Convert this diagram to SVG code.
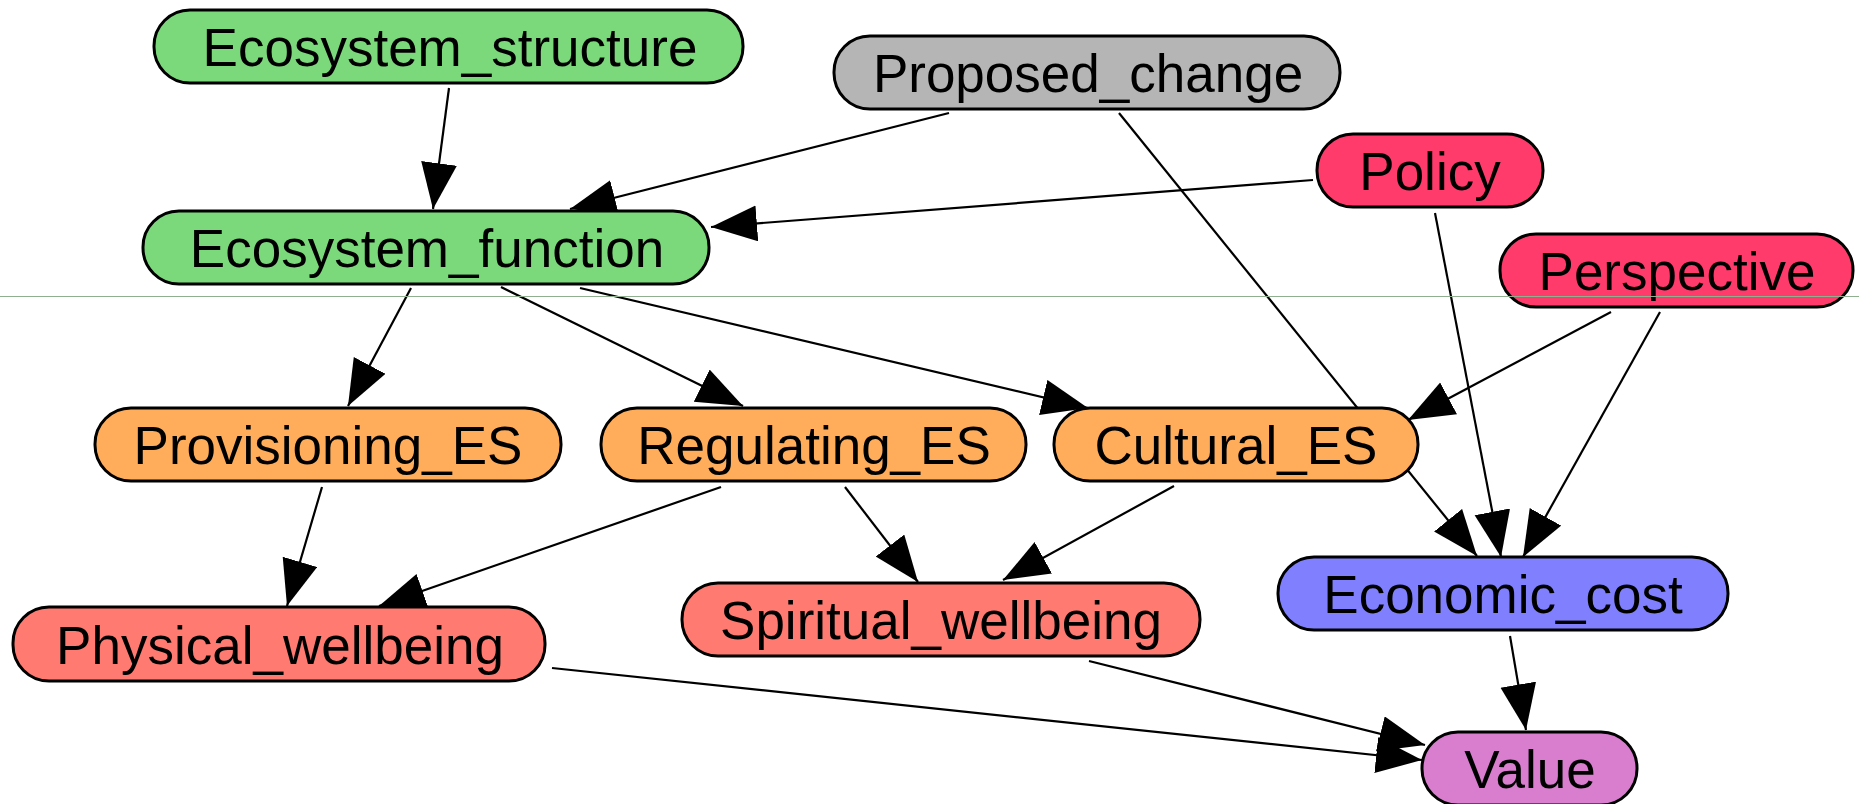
<svg xmlns="http://www.w3.org/2000/svg" width="1859" height="804" viewBox="0 0 1859 804">
<defs>
<style>
.n rect{stroke:#000;stroke-width:3}
.n text{font-family:"Liberation Sans",Arial,sans-serif;font-size:53px;text-anchor:middle;fill:#000}
.e line{stroke:#000;stroke-width:2.2;marker-end:url(#ah)}
.g rect{fill:#7bd97b}.gy rect{fill:#b5b5b5}.pk rect{fill:#ff3b6b}.or rect{fill:#ffad5b}.sa rect{fill:#ff7a70}.bl rect{fill:#8080ff}.vi rect{fill:#d97ecf}
</style>
<marker id="ah" markerUnits="userSpaceOnUse" markerWidth="48" markerHeight="38" refX="46" refY="18" orient="auto" viewBox="0 0 48 38">
<path d="M0,0 L46,18 L0,36 Z" fill="#000"/>
</marker>
</defs>
<rect width="1859" height="804" fill="#fff"/>
<g id="connectors" class="e">
<line x1="449" y1="88" x2="433" y2="209"/>
<line x1="949" y1="113" x2="570" y2="209"/>
<line x1="1313" y1="180" x2="711" y2="227"/>
<line x1="1119" y1="113" x2="1477" y2="556"/>
<line x1="1435" y1="213" x2="1501" y2="557"/>
<line x1="1611" y1="312" x2="1408" y2="420"/>
<line x1="1660" y1="312" x2="1523" y2="557"/>
<line x1="411" y1="288" x2="348" y2="406"/>
<line x1="501" y1="287" x2="743" y2="406"/>
<line x1="580" y1="288" x2="1088" y2="408"/>
<line x1="322" y1="487" x2="287" y2="606"/>
<line x1="721" y1="487" x2="379" y2="606"/>
<line x1="845" y1="487" x2="918" y2="582"/>
<line x1="1174" y1="486" x2="1003" y2="580"/>
<line x1="552" y1="668" x2="1422" y2="760"/>
<line x1="1089" y1="661" x2="1425" y2="745"/>
<line x1="1510" y1="636" x2="1526" y2="730"/>
</g>
<g id="Ecosystem_structure" class="n g"><rect x="154" y="10" width="589" height="73" rx="36"/><text x="450" y="66">Ecosystem_structure</text></g>
<g id="Ecosystem_function" class="n g"><rect x="143" y="211" width="566" height="73" rx="36"/><text x="427" y="267">Ecosystem_function</text></g>
<g id="Proposed_change" class="n gy"><rect x="834" y="36" width="506" height="73" rx="36"/><text x="1088" y="92">Proposed_change</text></g>
<g id="Policy" class="n pk"><rect x="1317" y="134" width="226" height="73" rx="36"/><text x="1430" y="190">Policy</text></g>
<g id="Perspective" class="n pk"><rect x="1500" y="234" width="353" height="73" rx="36"/><text x="1677" y="290">Perspective</text></g>
<g id="Provisioning_ES" class="n or"><rect x="95" y="408" width="466" height="73" rx="36"/><text x="328" y="464">Provisioning_ES</text></g>
<g id="Regulating_ES" class="n or"><rect x="601" y="408" width="425" height="73" rx="36"/><text x="814" y="464">Regulating_ES</text></g>
<g id="Cultural_ES" class="n or"><rect x="1054" y="408" width="364" height="73" rx="36"/><text x="1236" y="464">Cultural_ES</text></g>
<g id="Physical_wellbeing" class="n sa"><rect x="13" y="607" width="532" height="74" rx="36"/><text x="280" y="664">Physical_wellbeing</text></g>
<g id="Spiritual_wellbeing" class="n sa"><rect x="682" y="583" width="518" height="73" rx="36"/><text x="941" y="639">Spiritual_wellbeing</text></g>
<g id="Economic_cost" class="n bl"><rect x="1278" y="557" width="450" height="73" rx="36"/><text x="1503" y="613">Economic_cost</text></g>
<g id="Value" class="n vi"><rect x="1422" y="732" width="215" height="73" rx="36"/><text x="1530" y="788">Value</text></g>
<line x1="0" y1="296.5" x2="1859" y2="296.5" stroke="#8fb08f" stroke-width="1"/>
</svg>
